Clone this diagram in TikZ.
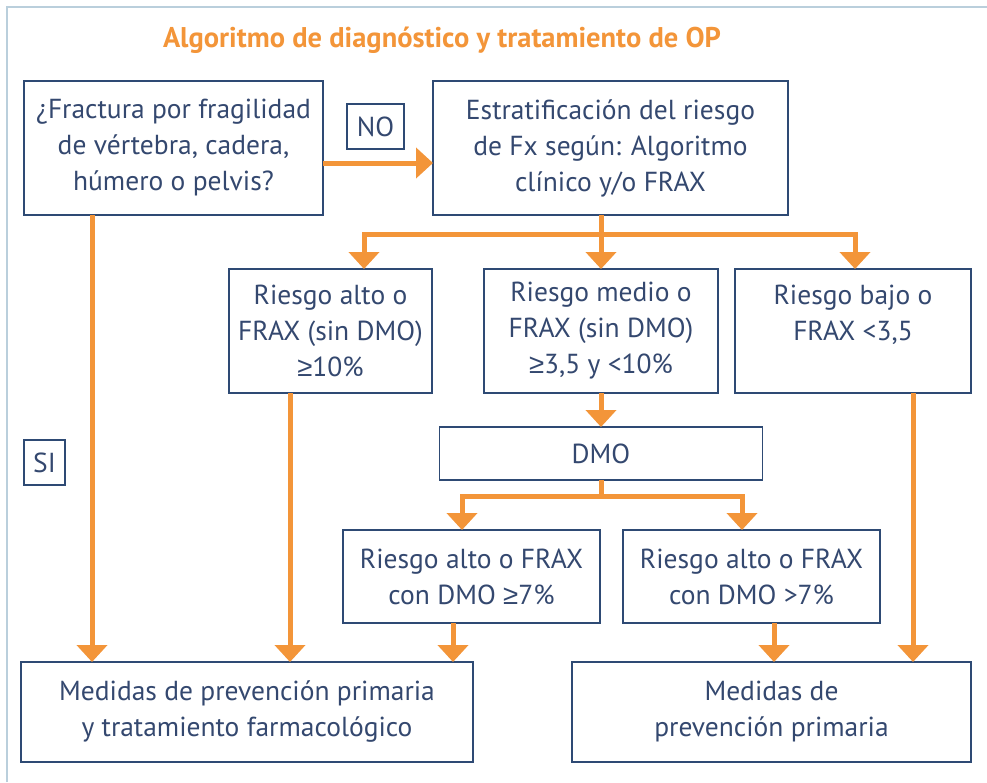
\documentclass[tikz,border=0pt]{standalone}
\usepackage{fontspec}
\setmainfont{PT Sans}
\newfontfamily\symfont{Liberation Sans}
\usetikzlibrary{arrows.meta}
\definecolor{boxblue}{HTML}{2E4A74}
\definecolor{textblue}{HTML}{34486F}
\definecolor{floworange}{HTML}{F39539}
\definecolor{framegray}{HTML}{BACFDC}
\newcommand{\geqsym}{{\symfont ≥}}
\begin{document}
\begin{tikzpicture}[x=1pt,y=-1pt,
  box/.style={draw=boxblue,line width=1.5pt,text=textblue,align=center,
    inner sep=0pt,outer sep=0pt,font=\fontsize{27.5}{36}\selectfont},
  flowline/.style={draw=floworange,line width=5pt},
  flow/.style={flowline,-{Triangle[width=30pt,length=17pt]}}]
  \useasboundingbox (0,0) rectangle (987,782);

  % Frame
  \draw[framegray,line width=2pt] (7,782) -- (7,7) -- (987,7);

  % Title
  \node[text=floworange,font=\fontsize{28.5}{32}\selectfont\bfseries] (titulo) at (442,40)
    {Algoritmo de diagnóstico y tratamiento de OP};

  % Boxes
  \node[box,minimum width=299pt,minimum height=134pt] (fx) at (173.5,148)
    {¿Fractura por fragilidad\\de vértebra, cadera,\\húmero o pelvis?};
  \node[box,minimum width=355pt,minimum height=134pt] (estrat) at (610.5,148)
    {Estratificación del riesgo\\de Fx según: Algoritmo\\clínico y/o FRAX};
  \node[box,minimum width=203pt,minimum height=124pt] (alto) at (330.5,331)
    {Riesgo alto o\\FRAX (sin DMO)\\\geqsym10\%};
  \node[box,minimum width=234pt,minimum height=124pt] (medio) at (601,331)
    {Riesgo medio o\\FRAX (sin DMO)\\\geqsym3,5 y <10\%};
  \node[box,minimum width=236pt,minimum height=124pt] (bajo) at (853,331)
    {Riesgo bajo o\\FRAX <3,5\\\phantom{X}};
  \node[box,minimum width=323pt,minimum height=53pt] (dmo) at (601,453.5) {DMO};
  \node[box,minimum width=257pt,minimum height=93pt] (dmoalto) at (471.5,576.5)
    {Riesgo alto o FRAX\\con DMO \geqsym7\%};
  \node[box,minimum width=257pt,minimum height=93pt] (dmoaltob) at (751.5,576.5)
    {Riesgo alto o FRAX\\con DMO >7\%};
  \node[box,minimum width=452pt,minimum height=100pt] (trat) at (247,712)
    {Medidas de prevención primaria\\y tratamiento farmacológico};
  \node[box,minimum width=399pt,minimum height=100pt] (prev) at (771.5,712)
    {Medidas de\\prevención primaria};

  % Labels
  \node[box,minimum width=57pt,minimum height=45pt] (no) at (375.5,126.5) {NO};
  \node[box,minimum width=41pt,minimum height=45pt] (si) at (44.5,462.5) {SI};

  % Arrows
  \draw[flow] ([yshift=-15pt]fx.east) -- ([yshift=-15pt]estrat.west);

  \coordinate (split1) at (601,234);
  \draw[flowline] (split1 |- estrat.south) -- (split1);
  \draw[flow] (split1) -| ([xshift=33.5pt]alto.north);
  \draw[flow] (split1) -- (medio.north);
  \draw[flow] (split1) -| ([xshift=2pt]bajo.north);

  \draw[flow] (medio.south) -- (dmo.north);
  \coordinate (split2) at (601,496);
  \draw[flowline] (dmo.south) -- (split2);
  \draw[flow] (split2) -| ([xshift=-9.5pt]dmoalto.north);
  \draw[flow] (split2) -| ([xshift=-9.5pt]dmoaltob.north);

  \draw[flow] ([xshift=-81.5pt]fx.south) -- ([xshift=-81.5pt]fx.south |- trat.north);
  \draw[flow] ([xshift=-40.5pt]alto.south) -- ([xshift=-40.5pt]alto.south |- trat.north);
  \draw[flow] ([xshift=-18.5pt]dmoalto.south) -- ([xshift=-18.5pt]dmoalto.south |- trat.north);
  \draw[flow] ([xshift=22.5pt]dmoaltob.south) -- ([xshift=22.5pt]dmoaltob.south |- prev.north);
  \draw[flow] ([xshift=60pt]bajo.south) -- ([xshift=60pt]bajo.south |- prev.north);
\end{tikzpicture}
\end{document}
